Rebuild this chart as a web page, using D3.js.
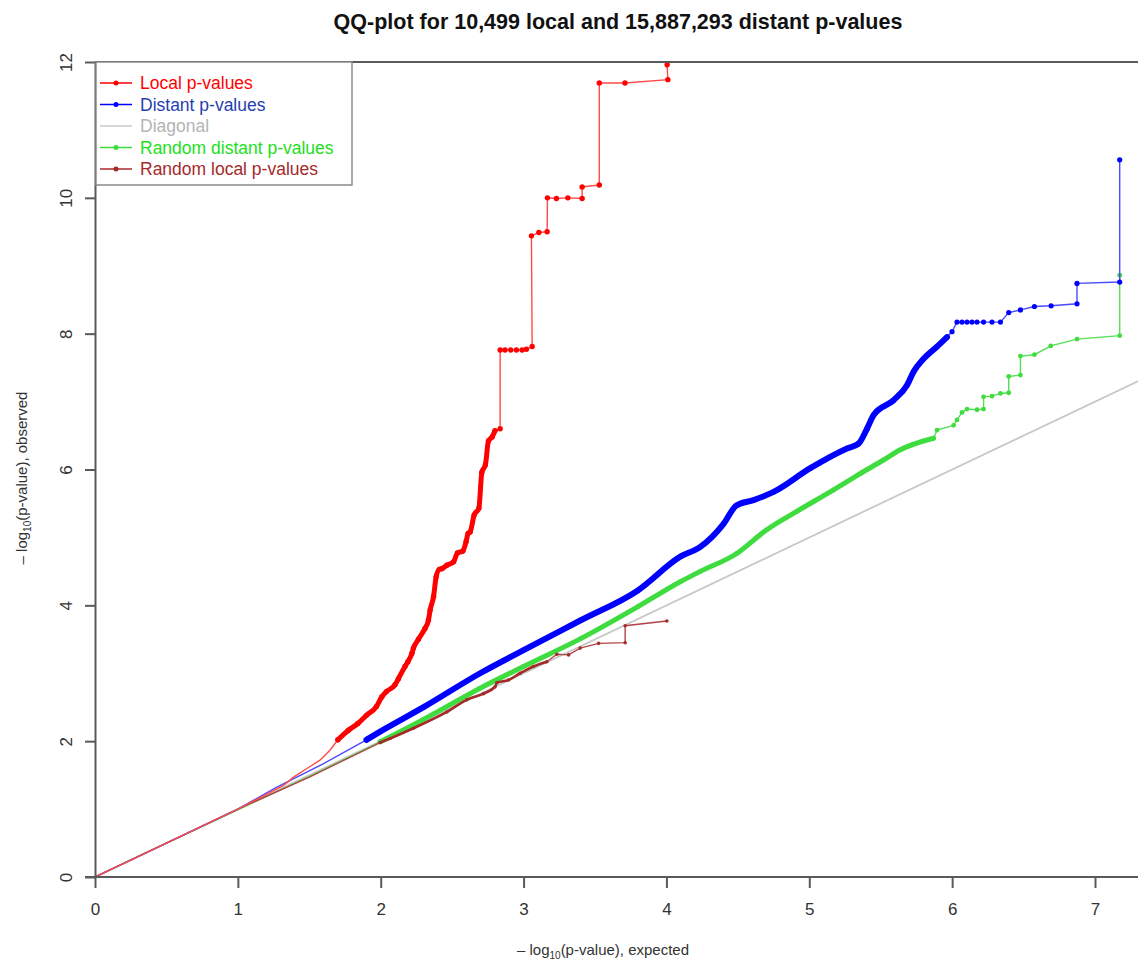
<!DOCTYPE html>
<html lang="en">
<head>
    <meta charset="UTF-8">
    <title>QQ-plot local and distant p-values</title>
    <script src="https://d3js.org/d3.v7.min.js"></script>
    <style>
        body {
            margin: 0;
            padding: 0;
            background-color: #ffffff;
            font-family: "Liberation Sans", Arial, sans-serif;
        }
        .axis path, .axis line {
            stroke: #5a5a5a;
            stroke-width: 2px;
        }
        .axis text {
            fill: #333333;
            font-size: 17px;
            font-family: "Liberation Sans", Arial, sans-serif;
        }
    </style>
</head>
<body>
    <div id="chart"></div>

    <script>
        // values, -log10 scale
        const xTicks = [0, 1, 2, 3, 4, 5, 6, 7];
        const yTicks = [0, 2, 4, 6, 8, 10, 12];

        const localX = [0, 0.5, 1.0, 1.32, 1.39, 1.5, 1.575, 1.646, 1.70, 1.774, 1.84, 1.90, 1.97, 2.007, 2.04, 2.10, 2.124, 2.17, 2.19, 2.218, 2.229, 2.264, 2.31, 2.334, 2.346, 2.37, 2.388, 2.41, 2.428, 2.463, 2.51, 2.537, 2.575, 2.598, 2.612, 2.626, 2.654, 2.687, 2.708, 2.733, 2.754, 2.78, 2.80, 2.836, 2.836, 2.87, 2.91, 2.95, 2.99, 3.02, 3.06, 3.055, 3.107, 3.165, 3.167, 3.23, 3.31, 3.41, 3.41, 3.53, 3.53, 3.71, 4.01, 4.005];
        const localY = [0, 0.5, 1.0, 1.35, 1.47, 1.62, 1.72, 1.87, 2.02, 2.16, 2.26, 2.38, 2.51, 2.65, 2.73, 2.83, 2.92, 3.10, 3.17, 3.29, 3.37, 3.50, 3.66, 3.78, 3.93, 4.13, 4.42, 4.53, 4.54, 4.59, 4.64, 4.77, 4.80, 4.94, 5.06, 5.08, 5.33, 5.43, 5.96, 6.07, 6.42, 6.48, 6.57, 6.60, 7.76, 7.76, 7.76, 7.76, 7.76, 7.77, 7.81, 9.44, 9.49, 9.50, 10.0, 9.99, 10.0, 9.99, 10.16, 10.19, 11.69, 11.69, 11.74, 11.96];

        const distantX = [0, 0.5, 1.0, 1.27, 1.6, 1.90, 1.996, 2.3, 2.696, 3.0, 3.40, 3.8, 4.10, 4.237, 4.40, 4.49, 4.61, 4.75, 5.007, 5.264, 5.345, 5.404, 5.45, 5.59, 5.684, 5.73, 5.80, 5.894, 5.964, 5.999, 6.034, 6.069, 6.104, 6.139, 6.174, 6.22, 6.279, 6.338, 6.396, 6.478, 6.576, 6.693, 6.874, 6.874, 7.173, 7.173];
        const distantY = [0, 0.5, 1.0, 1.32, 1.67, 2.02, 2.14, 2.5, 3.0, 3.34, 3.78, 4.22, 4.72, 4.86, 5.2, 5.47, 5.55, 5.67, 6.02, 6.31, 6.38, 6.60, 6.80, 7.02, 7.24, 7.44, 7.63, 7.81, 7.95, 8.03, 8.17, 8.17, 8.17, 8.17, 8.17, 8.17, 8.17, 8.17, 8.31, 8.35, 8.40, 8.41, 8.44, 8.74, 8.76, 10.56];

        const randDistX = [0, 0.5, 1.0, 1.5, 1.996, 2.3, 2.696, 3.0, 3.40, 3.8, 4.10, 4.237, 4.49, 4.70, 4.91, 5.17, 5.357, 5.52, 5.637, 5.87, 5.894, 6.01, 6.034, 6.069, 6.104, 6.174, 6.22, 6.22, 6.279, 6.338, 6.396, 6.396, 6.478, 6.478, 6.576, 6.69, 6.874, 7.173, 7.173];
        const randDistY = [0, 0.5, 0.99, 1.48, 1.99, 2.32, 2.78, 3.1, 3.51, 3.98, 4.35, 4.50, 4.76, 5.11, 5.38, 5.70, 5.94, 6.14, 6.29, 6.46, 6.58, 6.65, 6.73, 6.84, 6.89, 6.88, 6.89, 7.07, 7.08, 7.12, 7.13, 7.37, 7.39, 7.67, 7.69, 7.82, 7.92, 7.97, 8.86];

        const randLocalX = [0, 0.5, 1.0, 1.5, 1.996, 2.066, 2.229, 2.463, 2.603, 2.72, 2.80, 2.813, 2.894, 2.976, 3.069, 3.163, 3.233, 3.315, 3.396, 3.525, 3.711, 3.711, 4.003];
        const randLocalY = [0, 0.5, 1.0, 1.47, 1.98, 2.04, 2.19, 2.43, 2.61, 2.70, 2.80, 2.86, 2.90, 3.00, 3.10, 3.17, 3.28, 3.27, 3.37, 3.44, 3.45, 3.70, 3.77];

        const diagonalX = [0, 7.5];
        const diagonalY = [0, 7.5];

        const legendLabels = ["Local p-values", "Distant p-values", "Diagonal", "Random distant p-values", "Random local p-values"];

        const width = 1138;
        const height = 961;
        const margin = { left: 95, right: 43, top: 62, bottom: 84 };

        const svg = d3.select("#chart")
            .append("svg")
            .attr("width", width)
            .attr("height", height);

        const x = d3.scaleLinear()
            .domain([0, 7])
            .range([margin.left, width - margin.right]);

        const y = d3.scaleLinear()
            .domain([0, 12])
            .range([height - margin.bottom, margin.top]);

        svg.append("defs").append("clipPath")
            .attr("id", "plot-clip")
            .append("rect")
            .attr("x", margin.left)
            .attr("y", margin.top)
            .attr("width", width - margin.left)
            .attr("height", height - margin.bottom - margin.top);

        const plot = svg.append("g").attr("clip-path", "url(#plot-clip)");

        const line = d3.line()
            .x(d => x(d[0]))
            .y(d => y(d[1]));

        const bandLine = d3.line()
            .x(d => x(d[0]))
            .y(d => y(d[1]))
            .curve(d3.curveMonotoneX);

        const series = [
            { xs: randDistX, ys: randDistY, color: "#3fdc3f", lineColor: "#55e055", band: [1.99, 5.88], bandWidth: 5, r: 2.4, dotFrom: 1.99 },
            { xs: randLocalX, ys: randLocalY, color: "#a52a2a", lineColor: "#b04545", band: [1.99, 3.2], bandWidth: 2.6, r: 1.8, dotFrom: 1.99 },
            { xs: distantX, ys: distantY, color: "#0000ff", lineColor: "#4a4aff", band: [1.89, 5.97], bandWidth: 6, r: 2.6, dotFrom: 1.89 },
            { xs: localX, ys: localY, color: "#ff0000", lineColor: "#ff4a4a", band: [1.69, 2.81], bandWidth: 5, r: 2.7, dotFrom: 1.69 }
        ];

        // diagonal
        plot.append("path")
            .datum(d3.zip(diagonalX, diagonalY))
            .attr("d", line)
            .attr("fill", "none")
            .attr("stroke", "#c8c8c8")
            .attr("stroke-width", 1.8);

        series.forEach(s => {
            const pts = d3.zip(s.xs, s.ys);

            plot.append("path")
                .datum(pts)
                .attr("d", line)
                .attr("fill", "none")
                .attr("stroke", s.lineColor)
                .attr("stroke-width", 1.4);

            // overlapping points in the dense part look like a thick band
            plot.append("path")
                .datum(pts.filter(p => p[0] >= s.band[0] && p[0] <= s.band[1]))
                .attr("d", bandLine)
                .attr("fill", "none")
                .attr("stroke", s.color)
                .attr("stroke-width", s.bandWidth)
                .attr("stroke-linecap", "round")
                .attr("stroke-linejoin", "round");

            plot.selectAll(null)
                .data(pts.filter(p => p[0] >= s.dotFrom))
                .enter()
                .append("circle")
                .attr("cx", d => x(d[0]))
                .attr("cy", d => y(d[1]))
                .attr("r", s.r)
                .attr("fill", s.color);
        });

        // axes
        svg.append("g")
            .attr("class", "axis")
            .attr("transform", `translate(0,${y(0)})`)
            .call(d3.axisBottom(x).tickValues(xTicks).tickFormat(d3.format("d")).tickSize(11).tickSizeOuter(0).tickPadding(15))
            .call(g => g.select(".domain").attr("d", `M${x(0) - 10},0H${width}`));

        const yAxis = svg.append("g")
            .attr("class", "axis")
            .attr("transform", `translate(${x(0)},0)`)
            .call(d3.axisLeft(y).tickValues(yTicks).tickFormat(d3.format("d")).tickSize(10).tickSizeOuter(0));

        yAxis.selectAll(".tick text")
            .attr("transform", "rotate(-90)")
            .attr("x", 0)
            .attr("y", -23)
            .attr("dy", 0)
            .attr("text-anchor", "middle");

        // top of the box
        svg.append("line")
            .attr("x1", x(0))
            .attr("x2", width)
            .attr("y1", y(12))
            .attr("y2", y(12))
            .attr("stroke", "#5a5a5a")
            .attr("stroke-width", 2);

        // title and axis labels
        svg.append("text")
            .attr("x", 618)
            .attr("y", 29)
            .attr("text-anchor", "middle")
            .attr("font-size", "21.5px")
            .attr("font-weight", "bold")
            .attr("fill", "#111")
            .text("QQ-plot for 10,499 local and 15,887,293 distant p-values");

        function logLabel(sel, tail) {
            sel.append("tspan").text("\u2013 log");
            sel.append("tspan").attr("font-size", "10px").attr("dy", 4).text("10");
            sel.append("tspan").attr("dy", -4).text("(p-value), " + tail);
        }

        svg.append("text")
            .attr("x", 603)
            .attr("y", 955)
            .attr("text-anchor", "middle")
            .attr("font-size", "15px")
            .attr("fill", "#333")
            .call(logLabel, "expected");

        svg.append("text")
            .attr("transform", `translate(27,478) rotate(-90)`)
            .attr("text-anchor", "middle")
            .attr("font-size", "15px")
            .attr("fill", "#333")
            .call(logLabel, "observed");

        // legend
        const legendColors = ["#ff0000", "#0000ff", "#c8c8c8", "#3fdc3f", "#a52a2a"];
        const legendText = ["#ff0000", "#1f3fb0", "#b4b4b4", "#22e022", "#a52a2a"];
        const legendDots = [true, true, false, true, true];

        const legend = svg.append("g");
        legend.append("rect")
            .attr("x", 96)
            .attr("y", 62)
            .attr("width", 256)
            .attr("height", 123)
            .attr("fill", "#ffffff")
            .attr("stroke", "#8a8a8a")
            .attr("stroke-width", 1.5);

        const rows = legend.selectAll(".row")
            .data(legendLabels)
            .enter()
            .append("g")
            .attr("class", "row")
            .attr("transform", (d, i) => `translate(0,${83 + i * 21.5})`);

        rows.append("line")
            .attr("x1", 100)
            .attr("x2", 132)
            .attr("stroke", (d, i) => legendColors[i])
            .attr("stroke-width", 1.5);

        rows.filter((d, i) => legendDots[i])
            .append("circle")
            .attr("cx", 116)
            .attr("r", 2.5)
            .attr("fill", d => legendColors[legendLabels.indexOf(d)]);

        rows.append("text")
            .attr("x", 140)
            .attr("dy", "0.35em")
            .attr("font-size", "17.5px")
            .attr("fill", (d, i) => legendText[i])
            .text(d => d);
    </script>
</body>
</html>
